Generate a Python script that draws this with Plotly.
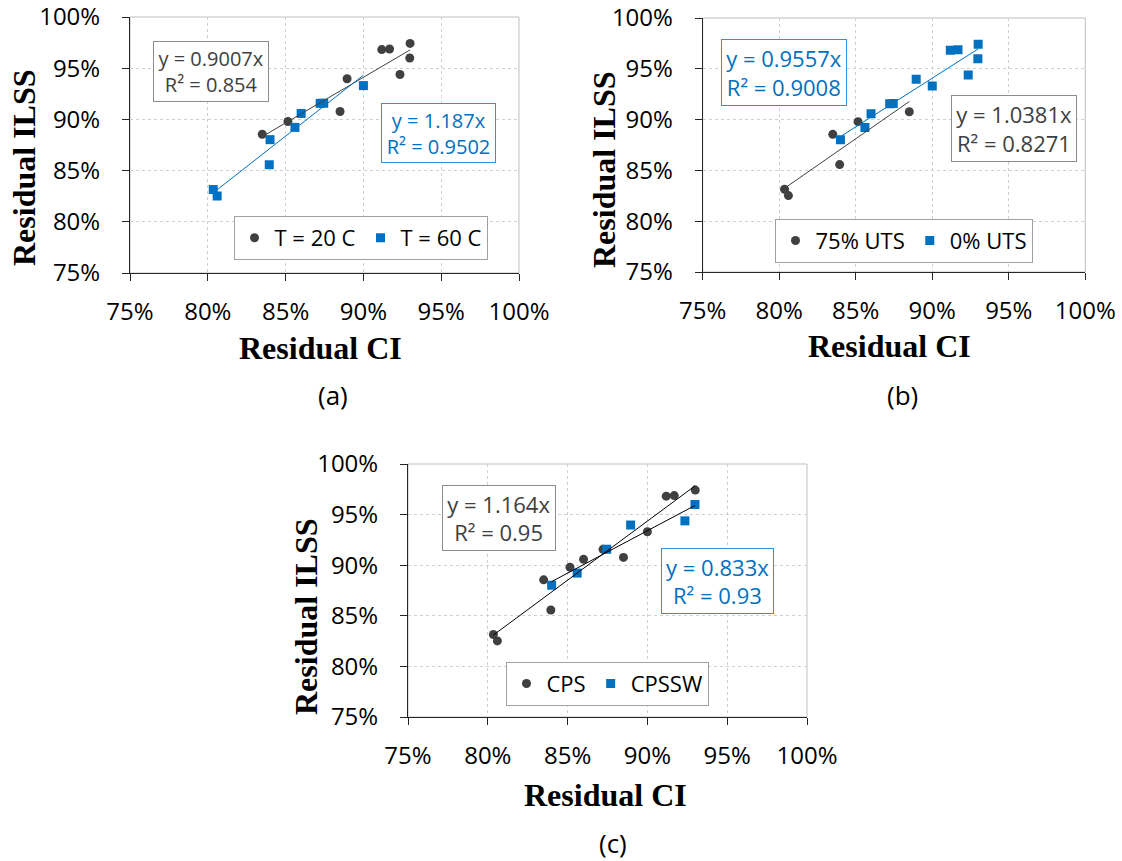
import numpy as np
import plotly.graph_objects as go

# ---------------- data (values in %) ----------------
ci = [80.35, 80.60, 83.50, 83.95, 85.15, 88.50, 84.00, 85.60, 86.00,
      87.22, 87.45, 88.95, 90.00, 91.18, 91.68, 92.35, 93.00, 92.98]
ilss = [83.15, 82.52, 88.55, 85.57, 89.80, 90.77, 88.02, 89.22, 90.58,
        91.57, 91.58, 93.97, 93.30, 96.82, 96.88, 94.38, 97.42, 96.00]
temperature = ["T = 60 C", "T = 60 C", "T = 20 C", "T = 60 C", "T = 20 C", "T = 20 C",
               "T = 60 C", "T = 60 C", "T = 60 C", "T = 60 C", "T = 60 C", "T = 20 C",
               "T = 60 C", "T = 20 C", "T = 20 C", "T = 20 C", "T = 20 C", "T = 20 C"]
load = ["75% UTS"] * 6 + ["0% UTS"] * 12
surface = ["CPS", "CPS", "CPS", "CPS", "CPS", "CPS", "CPSSW", "CPSSW", "CPS",
           "CPS", "CPSSW", "CPSSW", "CPS", "CPS", "CPS", "CPSSW", "CPS", "CPSSW"]

tick_vals = [75, 80, 85, 90, 95, 100]
tick_text = ["75%", "80%", "85%", "90%", "95%", "100%"]

eq_a = [("y = 0.9007x<br>R² = 0.854", "dark"), ("y = 1.187x<br>R² = 0.9502", "blue")]
eq_b = [("y = 0.9557x<br>R² = 0.9008", "blue"), ("y = 1.0381x<br>R² = 0.8271", "dark")]
eq_c = [("y = 1.164x<br>R² = 0.95", "dark"), ("y = 0.833x<br>R² = 0.93", "blue")]

# ---------------- styling ----------------
W, H = 1122, 861
DARK = "#404040"
BLUE = "#0070C0"
AXC = "#262626"
SANS = "Open Sans"
SERIF = "Liberation Serif"


def px(x):
    return x / W


def py(y):
    return 1 - y / H


panels = [
    dict(s="", box=(130, 17, 519, 273), group=temperature,
         series=[("T = 20 C", "circle", DARK, DARK), ("T = 60 C", "square", BLUE, BLUE)],
         legend="legend", leg=(360.5, 238),
         eqs=eq_a, eqbox=[(152.7, 41.7, 269, 102.3), (380.7, 103.3, 495.7, 163.7)], eqsize=20,
         xt=(320, 348), yt=(24, 168), lab=("(a)", 333, 395)),
    dict(s="2", box=(702.7, 18, 1085.3, 272), group=load,
         series=[("75% UTS", "circle", DARK, DARK), ("0% UTS", "square", BLUE, BLUE)],
         legend="legend2", leg=(903.5, 240.7),
         eqs=eq_b, eqbox=[(720.7, 39.3, 846.7, 106), (951, 95, 1077.3, 162.3)], eqsize=22,
         xt=(889, 346), yt=(604, 170), lab=("(b)", 902, 395)),
    dict(s="3", box=(408, 464, 807, 717), group=surface,
         series=[("CPS", "circle", DARK, "#000000"), ("CPSSW", "square", BLUE, "#000000")],
         legend="legend3", leg=(607, 683.7),
         eqs=eq_c, eqbox=[(442.3, 485, 556, 551), (661, 547.7, 774.3, 613.7)], eqsize=22,
         xt=(605, 795), yt=(306, 617), lab=("(c)", 613, 843)),
]

fig = go.Figure()
layout = dict(
    width=W, height=H, margin=dict(l=0, r=0, t=0, b=0, autoexpand=False),
    paper_bgcolor="white", plot_bgcolor="white", showlegend=True,
)
annotations = []
shapes = []

ci_arr = np.array(ci)
ilss_arr = np.array(ilss)

for p in panels:
    s = p["s"]
    xa, ya = "x" + s, "y" + s
    l, t, r, b = p["box"]
    grp = np.array(p["group"])
    for name, sym, col, lcol in p["series"]:
        m = grp == name
        fig.add_trace(go.Scatter(
            x=ci_arr[m], y=ilss_arr[m], mode="markers", name=name,
            marker=dict(symbol=sym, size=9, color=col, line=dict(width=0)),
            xaxis=xa, yaxis=ya, legend=p["legend"], showlegend=True,
        ))
    for name, sym, col, lcol in p["series"]:
        m = grp == name
        xs, ys = ci_arr[m], ilss_arr[m]
        k, c0 = np.polyfit(xs, ys, 1)
        xl = np.array([xs.min(), xs.max()])
        fig.add_trace(go.Scatter(
            x=xl, y=k * xl + c0, mode="lines", line=dict(color=lcol, width=1),
            xaxis=xa, yaxis=ya, showlegend=False, hoverinfo="skip",
        ))
    axis_common = dict(
        range=[75, 100], tickvals=tick_vals, ticktext=tick_text,
        showgrid=True, gridcolor="#D0D0D0", griddash="dot", gridwidth=1,
        showline=True, linecolor=AXC, linewidth=1,
        ticks="outside", ticklen=7, tickcolor=AXC, tickwidth=1,
        tickfont=dict(family=SANS, size=24, color="#000000"),
        zeroline=False, fixedrange=True, automargin=False,
        ticklabeloverflow="allow",
    )
    layout["xaxis" + s] = dict(axis_common, domain=[px(l), px(r)], anchor=ya,
                               ticklabelstandoff=10)
    layout["yaxis" + s] = dict(axis_common, domain=[py(b), py(t)], anchor=xa,
                               ticklabelstandoff=17)
    shapes.append(dict(type="rect", xref=xa + " domain", yref=ya + " domain",
                       x0=0, x1=1, y0=0, y1=1, line=dict(color="#BFBFBF", width=1),
                       layer="below"))
    layout[p["legend"]] = dict(
        x=px(p["leg"][0]), y=py(p["leg"][1]), xanchor="center", yanchor="middle",
        orientation="h", bgcolor="white", bordercolor="#A0A0A0", borderwidth=1,
        font=dict(family=SANS, size=22, color="#000000"),
        itemsizing="trace", tracegroupgap=0,
    )
    for (txt, kind), (x0, y0, x1, y1) in zip(p["eqs"], p["eqbox"]):
        col = DARK if kind == "dark" else BLUE
        bcol = "#8C8C8C" if kind == "dark" else "#3A8FD0"
        annotations.append(dict(
            text=txt, xref="paper", yref="paper",
            x=px((x0 + x1) / 2), y=py((y0 + y1) / 2), xanchor="center", yanchor="middle",
            showarrow=False, font=dict(family=SANS, size=p["eqsize"], color=col),
            bordercolor=bcol, borderwidth=1, borderpad=0, bgcolor="white",
            width=x1 - x0 - 2, height=y1 - y0 - 2, align="center", valign="middle",
        ))
    annotations.append(dict(text="<b>Residual CI</b>", xref="paper", yref="paper",
                            x=px(p["xt"][0]), y=py(p["xt"][1]), xanchor="center",
                            yanchor="middle", showarrow=False,
                            font=dict(family=SERIF, size=32, color="#000000")))
    annotations.append(dict(text="<b>Residual ILSS</b>", xref="paper", yref="paper",
                            x=px(p["yt"][0]), y=py(p["yt"][1]), xanchor="center",
                            yanchor="middle", showarrow=False, textangle=-90,
                            font=dict(family=SERIF, size=32, color="#000000")))
    annotations.append(dict(text=p["lab"][0], xref="paper", yref="paper",
                            x=px(p["lab"][1]), y=py(p["lab"][2]), xanchor="center",
                            yanchor="middle", showarrow=False,
                            font=dict(family=SANS, size=26, color="#000000")))

layout["annotations"] = annotations
layout["shapes"] = shapes
fig.update_layout(**layout)
fig.write_html("out.html")
